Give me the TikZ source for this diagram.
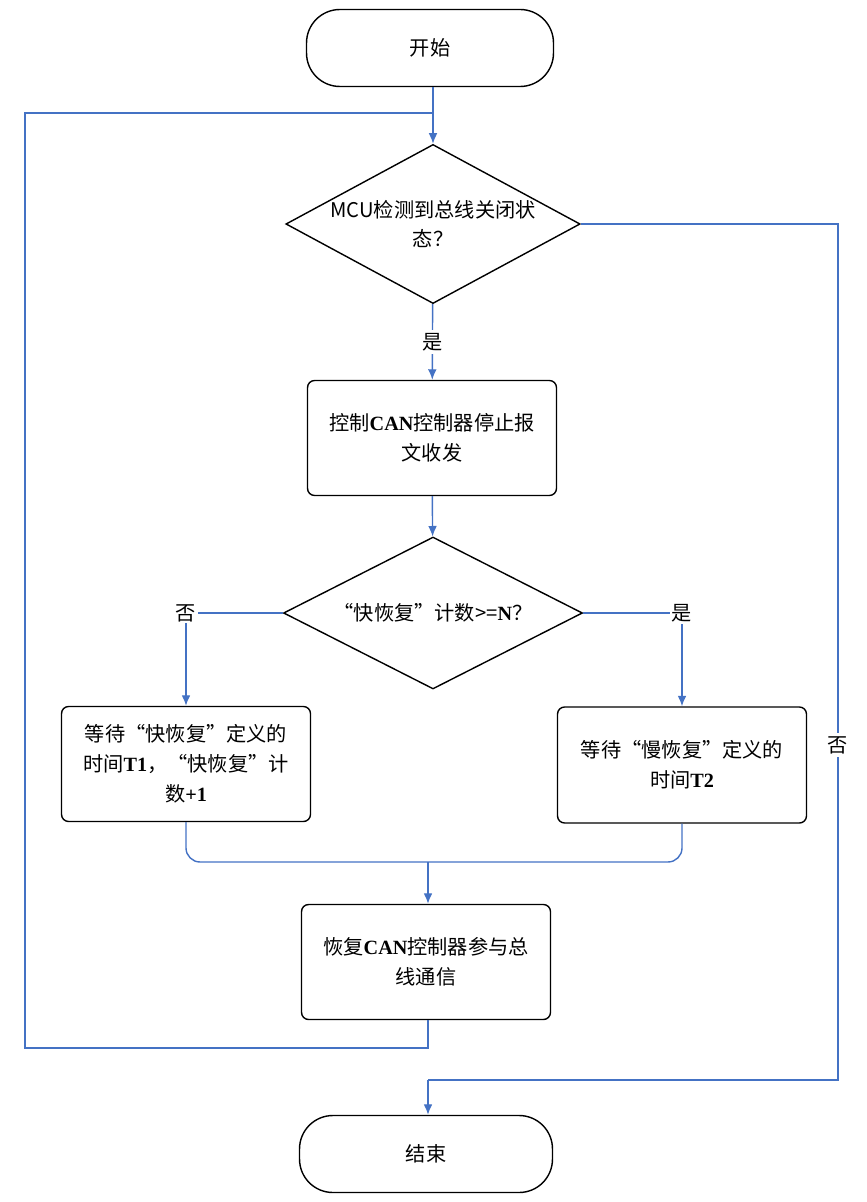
\documentclass[tikz,border=0pt]{standalone}
\usepackage{fontspec}
\setmainfont{Noto Sans CJK SC}
\newfontfamily\lat{Liberation Serif}
\usetikzlibrary{shapes.geometric,arrows.meta}
\definecolor{lineblue}{HTML}{4472C4}
\newcommand{\bl}[1]{{\lat\bfseries #1}}
\begin{document}
\begin{tikzpicture}
  [x=0.02cm,y=-0.02cm,font=\fontsize{11.5}{17}\selectfont,
   term/.style={draw=black,thick,rounded corners=19pt,minimum width=4.94cm,minimum height=1.54cm},
   proc/.style={draw=black,thick,rounded corners=4pt,minimum width=4.98cm,minimum height=2.3cm,align=center},
   dec/.style={draw=black,thick,diamond,aspect=1.85,inner sep=0pt,align=center},
   flow/.style={draw=lineblue,thick},
   arr/.style={flow,-{Latex[length=6pt,width=5pt]}}]
  \useasboundingbox (0,0) rectangle (866,1202);

  %%%%%%%%%%%%%%%%%%%%%% NODES %%%%%%%%%%%%%%%%%%%%%%
  \node[term] (start) at (430,48) {开始};
  \node[dec,minimum width=5.7cm,minimum height=3.14cm] (chk) at (433,224) {MCU检测到总线关闭状\\态？};
  \node[proc] (stop) at (432,438) {控制\bl{CAN}控制器停止报\\文收发};
  \node[dec,minimum width=5.98cm,minimum height=3.04cm] (cnt) at (433,613) {“快恢复”计数>=\bl{N}？};
  \node[proc] (fast) at (186,764) {等待“快恢复”定义的\\时间\bl{T1}，“快恢复”计\\数\bl{+1}};
  \node[proc,minimum height=2.32cm] (slow) at (682,765) {等待“慢恢复”定义的\\时间\bl{T2}};
  \node[proc] (back) at (426,962) {恢复\bl{CAN}控制器参与总\\线通信};
  \node[term,minimum width=5.06cm] (stopend) at (426,1154) {结束};

  \coordinate (loop) at (433,113);
  \coordinate (merge) at (428,862);
  \coordinate (exit) at (428,1080);

  %%%%%%%%%%%%%%%%%%%%%% CONNECTORS %%%%%%%%%%%%%%%%%%%%%%
  \foreach \fromN/\toN in {loop/chk,stop/cnt}
    \draw[arr] (\fromN) -- (\toN);
  \draw[arr] (merge) -- (back.north -| merge);
  \draw[arr] (exit) -- (stopend.north -| exit);
  \draw[flow] (start.south -| loop) -- (loop);
  \draw[arr] (chk) -- node[fill=white,text=black,inner sep=2pt]{是} (stop);
  \draw[arr] (cnt.west) -- (186,613) node[fill=white,text=black,inner sep=1pt]{否} -- (fast);
  \draw[arr] (cnt.east) -- (682,613) node[fill=white,text=black,inner sep=1pt]{是} -- (slow);
  \draw[flow,rounded corners=8pt] (fast) |- (merge) -| (slow);
  \draw[flow] (back.south -| merge) -- (428,1048) -- (25,1048) -- (25,113) -- (loop);
  \draw[flow] (chk.east) -| (838,745) node[fill=white,text=black,inner sep=2pt]{否} |- (exit);
\end{tikzpicture}
\end{document}
